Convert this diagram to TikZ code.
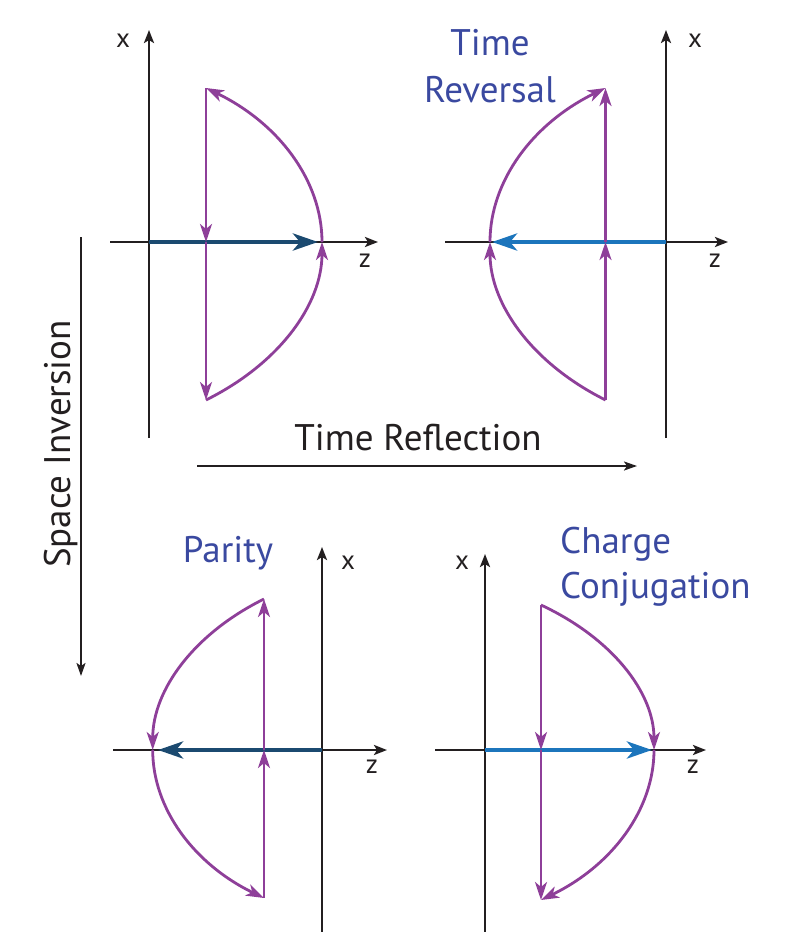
\documentclass[tikz,border=0pt]{standalone}
\usepackage{fontspec}
\setmainfont{PT Sans}
\usetikzlibrary{arrows.meta}
\definecolor{purp}{HTML}{8E3F99}
\definecolor{lblue}{HTML}{3A49A0}
\definecolor{bblue}{HTML}{1C75BC}
\definecolor{dblue}{HTML}{1B4A70}
\definecolor{ink}{HTML}{231F20}
\tikzset{
  axisline/.style={line width=2.7pt, draw=ink, -{Stealth[length=13pt,width=10pt,inset=3pt]}},
  opline/.style={line width=2.1pt, draw=ink, -{Stealth[length=13pt,width=9pt,inset=3pt]}},
  purline/.style={line width=2.8pt, draw=purp, -{Stealth[length=18pt,width=12pt,inset=5pt]}},
  bluedark/.style={line width=4.4pt, draw=dblue, -{Stealth[length=25pt,width=17pt,inset=7pt]}},
  bluebright/.style={line width=4.4pt, draw=bblue, -{Stealth[length=25pt,width=17pt,inset=7pt]}},
  axlabel/.style={font=\fontsize{27}{30}\selectfont, text=ink, inner sep=0pt},
  biglabel/.style={font=\fontsize{37}{44}\selectfont, inner sep=0pt},
}
\begin{document}
\begin{tikzpicture}[x=1pt,y=-1pt]
\useasboundingbox (0,0) rectangle (795,932);

% ---------- Panel 1 (top-left) ----------
\coordinate (aO) at (149,242);
\coordinate (aZs) at (110,242); \coordinate (aZe) at (378,242);
\coordinate (aXs) at (149,438); \coordinate (aXe) at (149,30);
\coordinate (aT) at (206,88); \coordinate (aM) at (206,242); \coordinate (aB) at (206,400);
\coordinate (aA) at (322,242); \coordinate (aBt) at (318,242);
\draw[axisline] (aZs) -- (aZe);
\draw[axisline] (aXs) -- (aXe);
\node[axlabel] (ax) at (123,41) {x};
\node[axlabel] (az) at (365,261) {z};
\draw[bluedark] (aO) -- (aBt);
\draw[purline] (aT) -- (aM);
\draw[purline] (aM) -- (aB);
\draw[purline] (aB) .. controls (278.7,363.9) and (322,304.9) .. (aA);
\draw[purline] (aA) .. controls (322,180.7) and (278.7,123.2) .. (aT);

% ---------- Panel 2 (top-right) ----------
\coordinate (bO) at (666,242);
\coordinate (bZs) at (445,242); \coordinate (bZe) at (728,242);
\coordinate (bXs) at (666,438); \coordinate (bXe) at (666,30);
\coordinate (bT) at (605.5,88); \coordinate (bM) at (605.5,242); \coordinate (bB) at (605.5,400);
\coordinate (bA) at (490,242); \coordinate (bBt) at (492,242);
\draw[axisline] (bZs) -- (bZe);
\draw[axisline] (bXs) -- (bXe);
\node[axlabel] (bx) at (695,41) {x};
\node[axlabel] (bz) at (715,261) {z};
\draw[bluebright] (bO) -- (bBt);
\draw[purline] (bB) -- (bM);
\draw[purline] (bM) -- (bT);
\draw[purline] (bB) .. controls (533.1,363.9) and (490,304.9) .. (bA);
\draw[purline] (bA) .. controls (490,180.7) and (533.1,123.2) .. (bT);
\node[biglabel, text=lblue, anchor=base] (tr1) at (490,55) {Time};
\node[biglabel, text=lblue, anchor=base] (tr2) at (490,102) {Reversal};

% ---------- Panel 3 (bottom-left) ----------
\coordinate (cO) at (322,750);
\coordinate (cZs) at (113,750); \coordinate (cZe) at (387,750);
\coordinate (cXs) at (322,932); \coordinate (cXe) at (322,547);
\coordinate (cT) at (264,599); \coordinate (cM) at (264,750); \coordinate (cB) at (264,898);
\coordinate (cA) at (152.7,750); \coordinate (cBt) at (158,750);
\draw[axisline] (cZs) -- (cZe);
\draw[axisline] (cXs) -- (cXe);
\node[axlabel] (cx) at (348,563) {x};
\node[axlabel] (cz) at (372,767) {z};
\draw[bluedark] (cO) -- (cBt);
\draw[purline] (cB) -- (cM);
\draw[purline] (cM) -- (cT);
\draw[purline] (cT) .. controls (194.2,633.5) and (152.7,689.9) .. (cA);
\draw[purline] (cA) .. controls (152.7,808.9) and (194.2,864.2) .. (cB);
\node[biglabel, text=lblue, anchor=base] (par) at (228,562) {Parity};

% ---------- Panel 4 (bottom-right) ----------
\coordinate (dO) at (485,750);
\coordinate (dZs) at (435,750); \coordinate (dZe) at (706,750);
\coordinate (dXs) at (485,932); \coordinate (dXe) at (485,554);
\coordinate (dT) at (541,605); \coordinate (dM) at (541,750); \coordinate (dB) at (541,900);
\coordinate (dA) at (654,750); \coordinate (dBt) at (652,750);
\draw[axisline] (dZs) -- (dZe);
\draw[axisline] (dXs) -- (dXe);
\node[axlabel] (dx) at (462,563) {x};
\node[axlabel] (dz) at (693,767) {z};
\draw[bluebright] (dO) -- (dBt);
\draw[purline] (dT) -- (dM);
\draw[purline] (dM) -- (dB);
\draw[purline] (dT) .. controls (611.9,638.1) and (654,692.3) .. (dA);
\draw[purline] (dA) .. controls (654,809.7) and (611.9,865.7) .. (dB);
\node[biglabel, text=lblue, anchor=base west] (cc1) at (560,553) {Charge};
\node[biglabel, text=lblue, anchor=base west] (cc2) at (560,598) {Conjugation};

% ---------- operations ----------
\coordinate (rS) at (197,466); \coordinate (rE) at (637,466);
\draw[opline] (rS) -- (rE);
\node[biglabel, text=ink, anchor=base] (trf) at (418,450) {Time Reflection};
\coordinate (sS) at (81,237); \coordinate (sE) at (81,676);
\draw[opline] (sS) -- (sE);
\node[biglabel, text=ink, anchor=base, rotate=90] (spi) at (70,444) {Space Inversion};
\end{tikzpicture}
\end{document}
